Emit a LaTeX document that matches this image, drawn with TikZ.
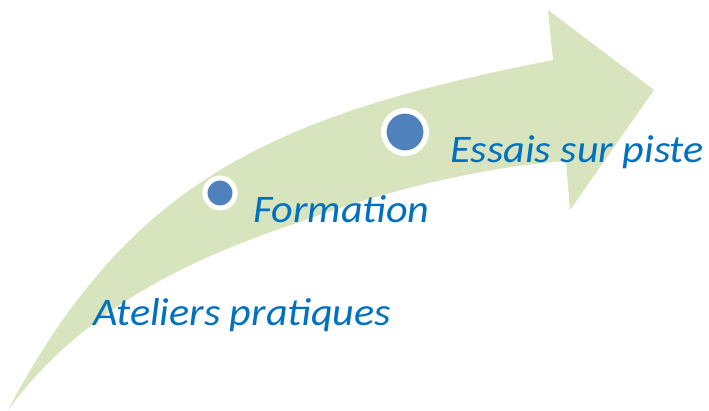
\documentclass[tikz,border=0pt]{standalone}
\usepackage{fontspec}
\setmainfont{Carlito}[FakeStretch=1.08]
\usepackage{tikz}
\definecolor{arrowgreen}{HTML}{D7E4BD}
\definecolor{dotblue}{HTML}{4F81BD}
\definecolor{textblue}{HTML}{0070C0}
\tikzset{
	dot/.style={circle,fill=dotblue,draw=white,inner sep=0pt},
	steplabel/.style={anchor=base west,inner sep=0pt,text=textblue,
		font=\fontsize{39}{47}\selectfont\itshape}
}
\begin{document}
\begin{tikzpicture}[x=1pt,y=-1pt]
	\useasboundingbox (0,0) rectangle (709,411);

	% arrow coordinates
	\coordinate (T) at (8,410);
	\coordinate (U) at (553,60);
	\coordinate (B1) at (548,10);
	\coordinate (P) at (654,90);
	\coordinate (B2) at (570,210);
	\coordinate (L) at (566,161);
	\coordinate (M) at (300,222);

	% curved arrow
	\fill[arrowgreen] (T) .. controls (130,180) and (273,115) .. (U)
		-- (B1) -- (P) -- (B2) -- (L)
		.. controls (470,168) and (370,196) .. (M)
		.. controls (200,255) and (85,305) .. (T) -- cycle;

	% dots
	\node[dot,minimum size=30pt,line width=5pt] (d1) at (220,193) {};
	\node[dot,minimum size=42.5pt,line width=5.5pt] (d2) at (405,132) {};

	% labels
	\node[steplabel] (ateliers) at (93,326) {Ateliers pratiques};
	\node[steplabel] (formation) at (253,223) {Formation};
	\node[steplabel] (essais) at (450,163) {Essais sur piste};
\end{tikzpicture}
\end{document}
